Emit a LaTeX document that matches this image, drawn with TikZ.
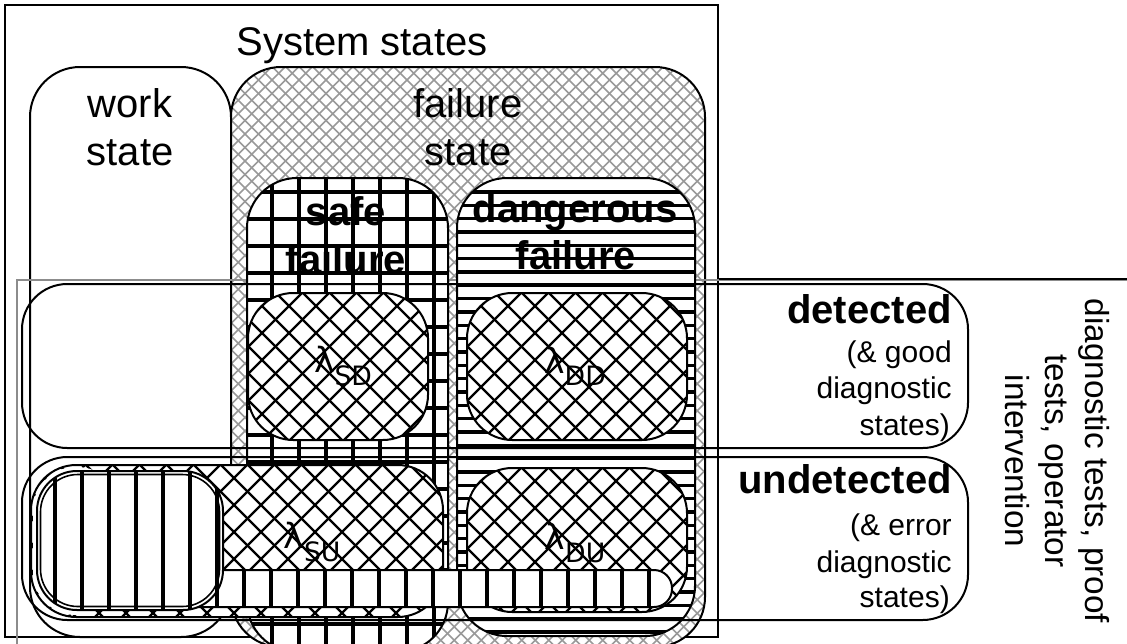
\documentclass[tikz,border=0pt]{standalone}
\usepackage{fontspec}
\setmainfont{Liberation Sans}
\newfontfamily\lamfont{DejaVu Sans}
\usetikzlibrary{fit}
\tikzset{
  region/.style={inner sep=0pt, draw=black, line width=1.5pt},
  xhatch/.style n args={4}{fill=white, path picture={
     \coordinate (pnw) at (path picture bounding box.north west);
     \foreach \k in {0,...,#4}{
       \draw[line width=#2, #3] ([shift={(\k*#1-620,0)}]pnw) -- ++(700,700);
       \draw[line width=#2, #3] ([shift={(\k*#1,0)}]pnw) -- ++(-700,700);}}},
  vstripes/.style 2 args={fill=white, path picture={
     \coordinate (pnw) at (path picture bounding box.north west);
     \foreach \k in {0,...,#2}{
       \draw[line width=2.5pt] ([shift={(\k*27+#1,0)}]pnw) -- ++(0,700);}}},
  hstripes/.style n args={3}{fill=white, path picture={
     \coordinate (pnw) at (path picture bounding box.north west);
     \foreach \k in {0,...,#3}{
       \draw[line width=2.5pt] ([shift={(0,\k*#2+#1)}]pnw) -- ++(1000,0);}}},
  gridfill/.style n args={4}{fill=white, path picture={
     \coordinate (pnw) at (path picture bounding box.north west);
     \foreach \k in {0,...,#2}{
       \draw[line width=2.5pt] ([shift={(\k*27+#1,0)}]pnw) -- ++(0,700);}
     \foreach \k in {0,...,#4}{
       \draw[line width=2.5pt] ([shift={(0,\k*27+#3)}]pnw) -- ++(1000,0);}}},
  grayhatch/.style={xhatch={13.5}{1.1pt}{black!40}{82}},
  blackhatch/.style={xhatch={27}{1.8pt}{black}{40}},
  big/.style={font=\fontsize{30}{36}\selectfont, inner sep=0pt, anchor=base},
  bigb/.style={font=\fontsize{30}{36}\selectfont\bfseries, inner sep=0pt, anchor=base},
  bigbr/.style={font=\fontsize{30}{36}\selectfont\bfseries, inner sep=0pt, anchor=base east},
  smallr/.style={font=\fontsize{22.5}{27}\selectfont, inner sep=0pt, anchor=base east},
  lam/.style={font=\lamfont\fontsize{26}{30}\selectfont, inner sep=0pt},
}
\newcommand\lamsub[1]{λ\raisebox{-0.35em}{\fontsize{20}{20}\selectfont #1}}
\begin{document}
\begin{tikzpicture}[x=0.75pt,y=-0.75pt]
\useasboundingbox (0,0) rectangle (1127,643);
\clip (0,0) rectangle (1127,643);
% outer system box
\node[region, fill=white, fit={(5,5) (718,637)}] (sys) {};
% work state
\node[region, fill=white, rounded corners=37.5pt, fit={(30,67) (231,637)}] (work) {};
% failure state
\node[region, grayhatch, rounded corners=37.5pt, fit={(231,67) (705,647)}] (fail) {};
% diagnostic region (gray inside, black outside)
\node[inner sep=0pt, draw=black!45, line width=1.2pt, fit={(17,280) (1140,660)}] (diag) {};
% safe and dangerous failure
\node[region, gridfill={25}{7}{14}{18}, rounded corners=37.5pt, fit={(247,178) (448,652)}] (safe) {};
\node[region, hstripes={14}{13.33}{34}, rounded corners=37.5pt, fit={(457,178) (695,636)}] (dang) {};
% detected / undetected bands
\node[region, rounded corners=34pt, fit={(22,284) (968,448)}] (det) {};
\node[region, rounded corners=34pt, fit={(22,457) (968,620)}] (und) {};
% lambda boxes
\node[region, blackhatch, rounded corners=34pt, fit={(248,293) (428,440)}] (sd) {};
\node[region, blackhatch, rounded corners=34pt, fit={(467,293) (687,440)}] (dd) {};
\node[region, blackhatch, rounded corners=34pt, fit={(31,465) (443,617)}] (su) {};
\node[region, blackhatch, rounded corners=34pt, fit={(467,468) (687,612)}] (du) {};
% white margin inside the left part of the SU box
\node[inner sep=0pt, fill=white, rounded corners=32pt, fit={(33,467) (120,615)}] (sumargin) {};
% vertical-striped bar and box
\node[region, vstripes={13}{19}, rounded corners=13.5pt, fit={(150,570) (672,607)}] (bar) {};
\node[region, vstripes={18}{7}, rounded corners=30pt, fit={(37,471) (223,610)}] (vbox) {};
\node[inner sep=0pt, draw, line width=1.2pt, rounded corners=28pt, fit={(40.5,474.5) (219.5,606.5)}] (vboxin) {};
% black part of the diagnostic region's top edge
\draw[line width=1.2pt] (sys.east |- diag.north) -- (diag.north east);
% texts
\node[big] (t-sys) at (362,55) {System states};
\node[big] (t-work1) at (130,117) {work};
\node[big] (t-work2) at (130,165) {state};
\node[big] (t-fail1) at (468,117) {failure};
\node[big] (t-fail2) at (468,165) {state};
\node[bigb] (t-safe1) at (346,225) {safe};
\node[bigb] (t-safe2) at (346,273) {failure};
\node[bigb] (t-dang1) at (575,222) {dangerous};
\node[bigb] (t-dang2) at (576,269) {failure};
\node[bigbr] (t-det) at (952,323) {detected};
\node[smallr] (t-det1) at (952,362) {(\& good};
\node[smallr] (t-det2) at (952,398) {diagnostic};
\node[smallr] (t-det3) at (950,435) {states)};
\node[bigbr] (t-und) at (952,493) {undetected};
\node[smallr] (t-und1) at (952,535) {(\& error};
\node[smallr] (t-und2) at (952,572) {diagnostic};
\node[smallr] (t-und3) at (950,607) {states)};
\node[lam] (l-sd) at (343,366) {\lamsub{SD}};
\node[lam] (l-dd) at (575,366) {\lamsub{DD}};
\node[lam] (l-su) at (312,542) {\lamsub{SU}};
\node[lam] (l-du) at (575,543) {\lamsub{DU}};
\node[rotate=-90, align=center, font=\fontsize{25}{30}\selectfont, inner sep=0pt] (t-diag) at (1057,461) {diagnostic tests, proof\\tests, operator\\intervention};
\end{tikzpicture}
\end{document}
